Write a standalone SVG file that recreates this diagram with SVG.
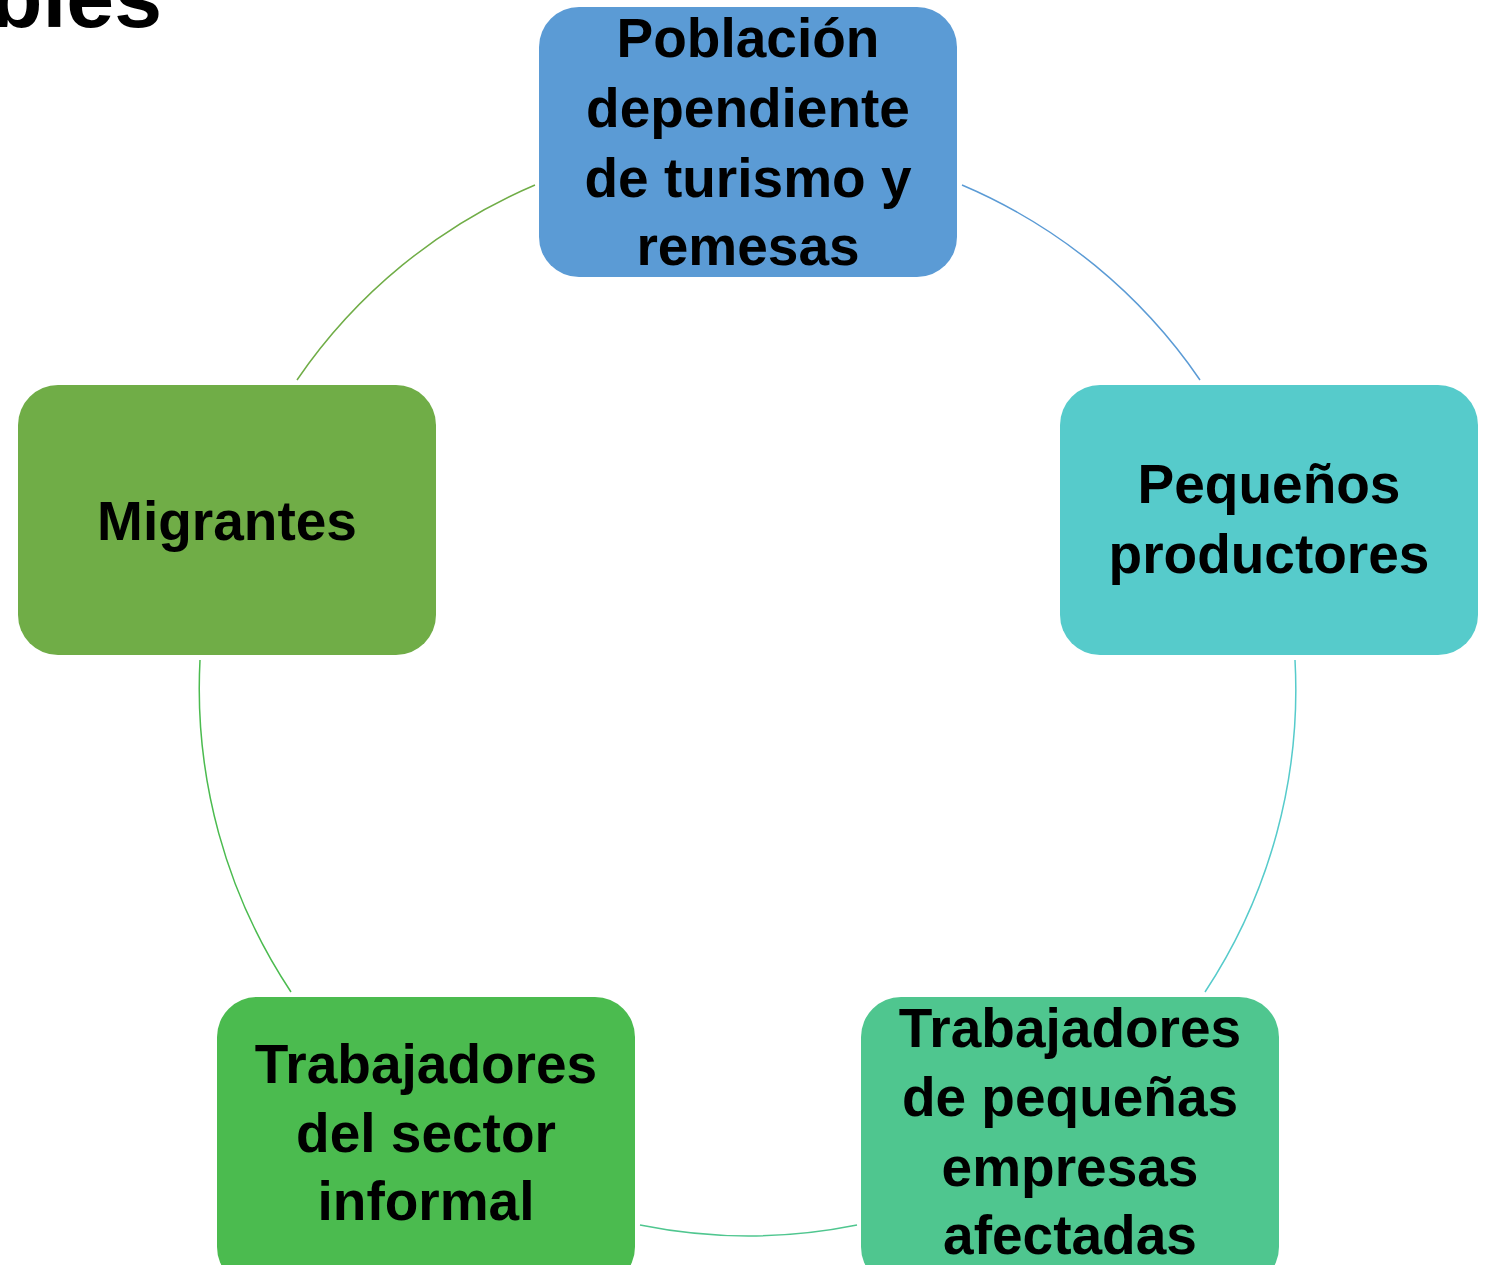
<svg xmlns="http://www.w3.org/2000/svg" width="1485" height="1265" viewBox="0 0 1485 1265">
<style>
.t{font-family:"Liberation Sans",Arial,sans-serif;font-weight:bold;font-size:55px;fill:#000;text-anchor:middle}
.c{fill:none;stroke-width:1.5}
</style>
<rect width="1485" height="1265" fill="#fff"/>
<text x="162" y="27" style="font-family:'Liberation Sans',Arial,sans-serif;font-weight:bold;font-size:86px;text-anchor:end">bles</text>
<g id="connectors">
<path class="c" stroke="#5B9BD5" d="M962 185 A548 548 0 0 1 1200 380"/>
<path class="c" stroke="#56CBCB" d="M1295 660 A548 548 0 0 1 1205 992"/>
<path class="c" stroke="#4FC68F" d="M857 1225 A548 548 0 0 1 640 1225"/>
<path class="c" stroke="#4BBB4F" d="M291 992 A548 548 0 0 1 200 660"/>
<path class="c" stroke="#70AD47" d="M297 380 A548 548 0 0 1 535 185"/>
</g>
<g id="n1">
<rect x="539" y="7" width="418" height="270" rx="40" fill="#5B9BD5"/>
<text class="t" x="748" y="57">Población</text>
<text class="t" x="748" y="127">dependiente</text>
<text class="t" x="748" y="197">de turismo y</text>
<text class="t" x="748" y="265">remesas</text>
</g>
<g id="n2">
<rect x="1060" y="385" width="418" height="270" rx="40" fill="#56CBCB"/>
<text class="t" x="1269" y="503">Pequeños</text>
<text class="t" x="1269" y="573">productores</text>
</g>
<g id="n3">
<rect x="861" y="997" width="418" height="290" rx="40" fill="#4FC68F"/>
<text class="t" x="1070" y="1047">Trabajadores</text>
<text class="t" x="1070" y="1116">de pequeñas</text>
<text class="t" x="1070" y="1186">empresas</text>
<text class="t" x="1070" y="1254">afectadas</text>
</g>
<g id="n4">
<rect x="217" y="997" width="418" height="290" rx="40" fill="#4BBB4F"/>
<text class="t" x="426" y="1083">Trabajadores</text>
<text class="t" x="426" y="1152">del sector</text>
<text class="t" x="426" y="1220">informal</text>
</g>
<g id="n5">
<rect x="18" y="385" width="418" height="270" rx="40" fill="#70AD47"/>
<text class="t" x="227" y="540">Migrantes</text>
</g>
</svg>
